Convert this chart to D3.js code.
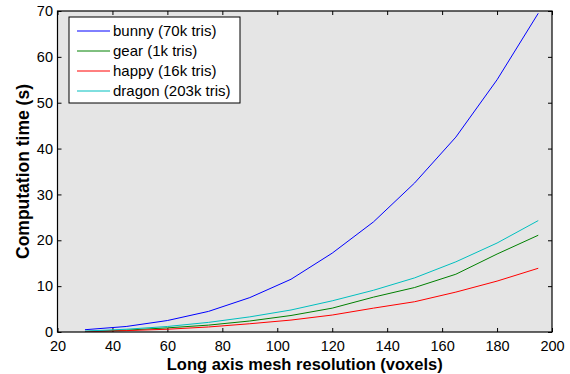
<!DOCTYPE html>
<html>
<head>
<meta charset="utf-8">
<script src="https://cdn.jsdelivr.net/npm/d3@7"></script>
<style>
  body { margin: 0; background: #fff; }
  svg text { font-family: "Liberation Sans", Arial, sans-serif; }
</style>
</head>
<body>
<div id="chart"></div>
<script>
const resolution = [30, 45, 60, 75, 90, 105, 120, 135, 150, 165, 180, 195];
const bunny  = [0.5, 1.2, 2.5, 4.5, 7.5, 11.5, 17.2, 24, 32.5, 42.5, 55, 69.5];
const gear   = [0.1, 0.4, 0.9, 1.5, 2.4, 3.6, 5.2, 7.6, 9.7, 12.6, 17.0, 21.1];
const happy  = [0.1, 0.3, 0.6, 1.1, 1.8, 2.6, 3.7, 5.2, 6.6, 8.7, 11.1, 13.9];
const dragon = [0.2, 0.6, 1.2, 2.1, 3.3, 4.8, 6.8, 9.1, 11.8, 15.3, 19.4, 24.3];
const seriesNames = ['bunny (70k tris)', 'gear (1k tris)', 'happy (16k tris)', 'dragon (203k tris)'];
const seriesColors = ['#0000ff', '#008000', '#ff0000', '#00bfbf'];
const xTicks = [20, 40, 60, 80, 100, 120, 140, 160, 180, 200];
const yTicks = [0, 10, 20, 30, 40, 50, 60, 70];

const width = 570, height = 374;
const margin = { top: 11, right: 18, bottom: 42, left: 57.5 };
const series = [bunny, gear, happy, dragon];

const svg = d3.select('#chart').append('svg')
  .attr('width', width)
  .attr('height', height);

const x = d3.scaleLinear().domain([20, 200]).range([margin.left, width - margin.right]);
const y = d3.scaleLinear().domain([0, 70]).range([height - margin.bottom, margin.top]);

// plot background
svg.append('rect')
  .attr('x', x(20)).attr('y', y(70))
  .attr('width', x(200) - x(20)).attr('height', y(0) - y(70))
  .attr('fill', '#e5e5e5');

// axes with inward ticks, mirrored on top and right
const axisStyle = g => {
  g.select('.domain').remove();
  g.selectAll('.tick line').attr('stroke', '#000');
  g.selectAll('.tick text').attr('fill', '#000').attr('font-size', 14.5);
};
svg.append('g')
  .attr('transform', `translate(0,${y(0)})`)
  .call(d3.axisBottom(x).tickValues(xTicks).tickSizeInner(-4).tickSizeOuter(0).tickPadding(8.5))
  .call(axisStyle);
svg.append('g')
  .attr('transform', `translate(0,${y(70)})`)
  .call(d3.axisTop(x).tickValues(xTicks).tickSizeInner(-4).tickSizeOuter(0).tickFormat(''))
  .call(axisStyle);
svg.append('g')
  .attr('transform', `translate(${x(20)},0)`)
  .call(d3.axisLeft(y).tickValues(yTicks).tickSizeInner(-4).tickSizeOuter(0).tickPadding(4.5))
  .call(axisStyle);
svg.append('g')
  .attr('transform', `translate(${x(200)},0)`)
  .call(d3.axisRight(y).tickValues(yTicks).tickSizeInner(-4).tickSizeOuter(0).tickFormat(''))
  .call(axisStyle);

// lines
const line = d3.line()
  .x((d, i) => x(resolution[i]))
  .y(d => y(d));
series.forEach((s, i) => {
  svg.append('path')
    .datum(s)
    .attr('fill', 'none')
    .attr('stroke', seriesColors[i])
    .attr('stroke-width', 1)
    .attr('d', line);
});

// frame
svg.append('rect')
  .attr('x', x(20)).attr('y', y(70))
  .attr('width', x(200) - x(20)).attr('height', y(0) - y(70))
  .attr('fill', 'none')
  .attr('stroke', '#000')
  .attr('stroke-width', 1.2);

// legend
const legend = svg.append('g').attr('transform', 'translate(69,17)');
legend.append('rect')
  .attr('width', 171).attr('height', 86)
  .attr('fill', '#fff').attr('stroke', '#000').attr('stroke-width', 1);
seriesNames.forEach((name, i) => {
  const row = legend.append('g').attr('transform', `translate(0,${14 + i * 20})`);
  row.append('line')
    .attr('x1', 8).attr('x2', 41)
    .attr('stroke', seriesColors[i]).attr('stroke-width', 1);
  row.append('text')
    .attr('x', 44).attr('dy', '0.35em')
    .attr('font-size', 15)
    .text(name);
});

// axis labels
svg.append('text')
  .attr('x', (x(20) + x(200)) / 2).attr('y', 369.5)
  .attr('text-anchor', 'middle')
  .attr('font-size', 16.5).attr('font-weight', 'bold')
  .text('Long axis mesh resolution (voxels)');
svg.append('text')
  .attr('transform', `translate(29,${(y(0) + y(70)) / 2}) rotate(-90)`)
  .attr('text-anchor', 'middle')
  .attr('font-size', 17.5).attr('font-weight', 'bold')
  .text('Computation time (s)');
</script>
</body>
</html>
